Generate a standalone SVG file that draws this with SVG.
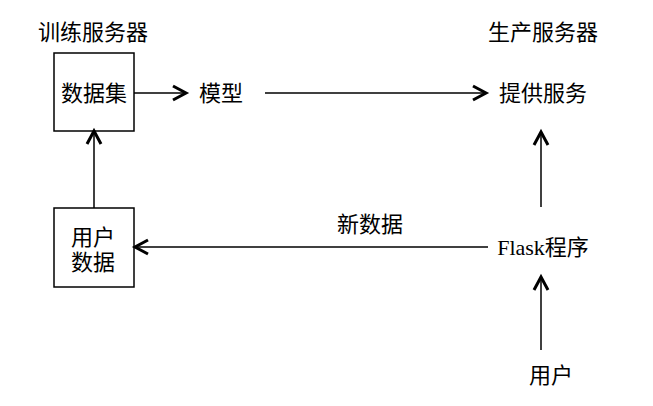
<svg xmlns="http://www.w3.org/2000/svg" width="653" height="406" viewBox="0 0 653 406">
<style>
text{font-family:"Liberation Serif","Noto Sans CJK SC",serif;font-size:22px;fill:#000;text-anchor:middle}
.box{fill:#fff;stroke:#000;stroke-width:1.5}
.edge{stroke:#000;stroke-width:1.5;fill:none;marker-end:url(#arr)}
</style>
<defs>
<marker id="arr" markerUnits="userSpaceOnUse" markerWidth="24" markerHeight="24" viewBox="-18 -12 24 24" refX="0" refY="0" orient="auto">
<path d="M-13,-7 L0,0 L-13,7" fill="none" stroke="#000" stroke-width="3"/>
</marker>
</defs>
<rect width="653" height="406" fill="#fff"/>
<g id="title-train"><text x="93" y="40">训练服务器</text></g>
<g id="title-prod"><text x="543" y="40">生产服务器</text></g>
<g id="dataset"><rect class="box" x="54" y="53" width="80" height="78"/><text x="94" y="101">数据集</text></g>
<g id="model"><text x="221" y="101">模型</text></g>
<g id="serve"><text x="543" y="101">提供服务</text></g>
<g id="userdata"><rect class="box" x="54" y="208" width="80" height="79"/><text x="93" y="245">用户</text><text x="93" y="270">数据</text></g>
<g id="newdata"><text x="370" y="232">新数据</text></g>
<g id="flask"><text x="543" y="255">Flask程序</text></g>
<g id="user"><text x="551" y="383">用户</text></g>
<g id="connectors">
<line class="edge" x1="134" y1="93" x2="186" y2="93"/>
<line class="edge" x1="265" y1="93" x2="486" y2="93"/>
<line class="edge" x1="94" y1="208" x2="94" y2="131"/>
<line class="edge" x1="541" y1="207" x2="541" y2="132"/>
<line class="edge" x1="488" y1="247" x2="135" y2="247"/>
<line class="edge" x1="541" y1="350" x2="541" y2="277"/>
</g>
</svg>
